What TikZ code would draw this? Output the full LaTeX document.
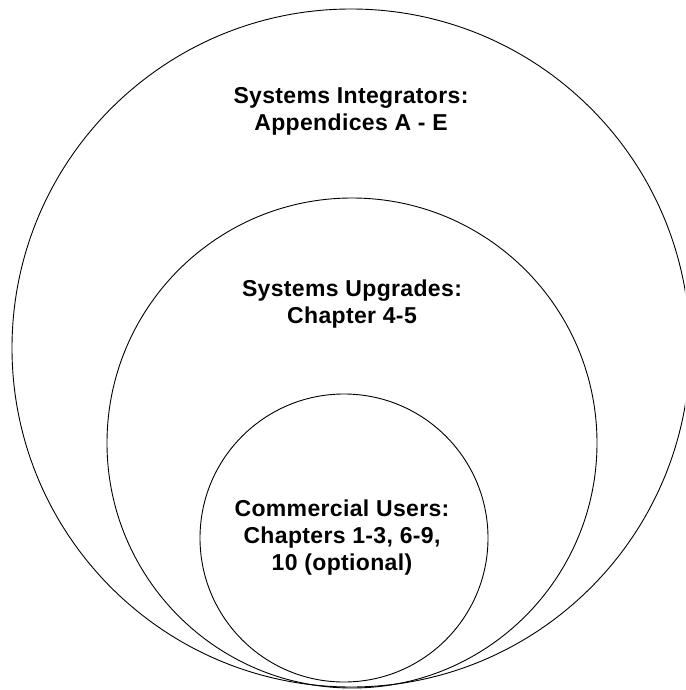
\documentclass[tikz,border=0pt]{standalone}
\usepackage{fontspec}
\setmainfont{Liberation Sans}[LetterSpace=1.5]
\begin{document}
\begin{tikzpicture}[x=1pt,y=-1pt,
  ring/.style={circle,draw=black,line width=0.9pt,inner sep=0pt},
  label/.style={align=center,font=\fontsize{23}{27}\selectfont\bfseries,inner sep=0pt}]
\useasboundingbox (0,0) rectangle (685,690);
\clip (0,0) rectangle (685,690);
\node[ring,minimum size=678pt] (outer) at (351,348) {};
\node[ring,minimum size=490pt] (middle) at (352,443) {};
\node[ring,minimum size=288pt] (inner) at (344,538) {};
\node[label] (t1) at (351,111) {Systems Integrators:\\Appendices A - E};
\node[label] (t2) at (352,304) {Systems Upgrades:\\Chapter 4-5};
\node[label] (t3) at (342,538) {Commercial Users:\\Chapters 1-3, 6-9,\\10 (optional)};
\end{tikzpicture}
\end{document}
